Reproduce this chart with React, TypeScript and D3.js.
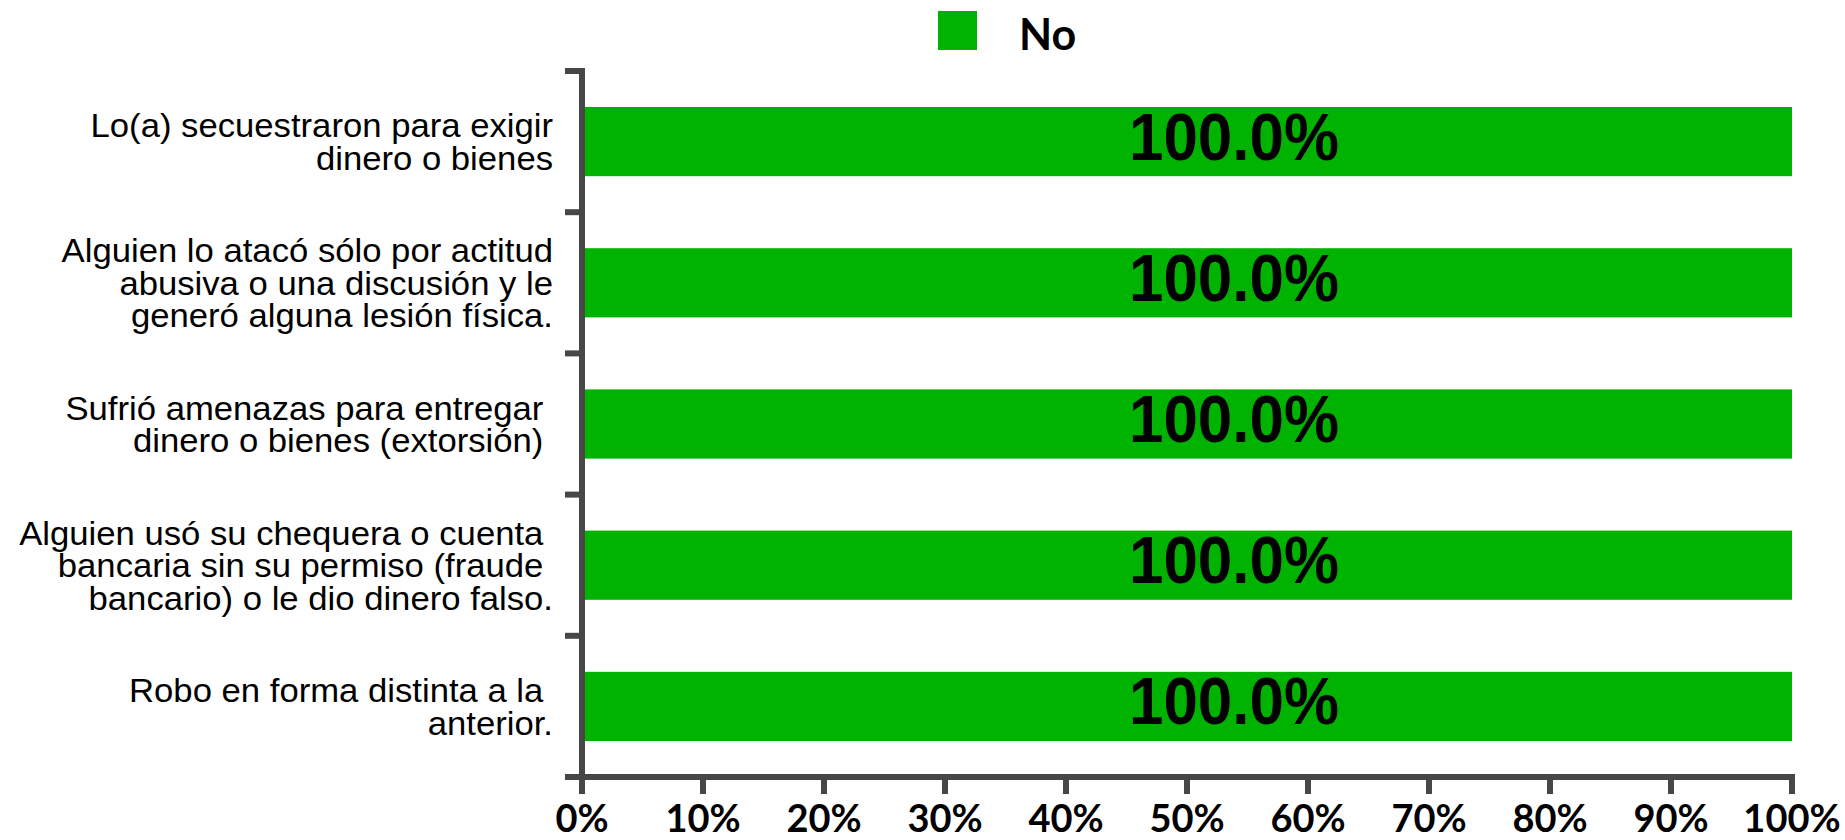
import React from "react";
import * as d3 from "d3";

const categoryLines: string[][] = [
  ["Lo(a) secuestraron para exigir", "dinero o bienes"],
  ["Alguien lo atacó sólo por actitud", "abusiva o una discusión y le", "generó alguna lesión física."],
  ["Sufrió amenazas para entregar ", "dinero o bienes (extorsión) "],
  ["Alguien usó su chequera o cuenta ", "bancaria sin su permiso (fraude ", "bancario) o le dio dinero falso."],
  ["Robo en forma distinta a la ", "anterior."],
];
const seriesName = "No";
const noValues = [100, 100, 100, 100, 100];
const xTickValues = [0, 10, 20, 30, 40, 50, 60, 70, 80, 90, 100];

const W = 1845;
const H = 840;
const GREEN = "#00b300";
const AXIS = "#474747";

export default function App() {
  const x = d3.scaleLinear().domain([0, 100]).range([582, 1792]);
  const idx = categoryLines.map((_, i) => String(i));
  const y = d3.scaleBand<string>().domain(idx).range([71, 777]).paddingInner(0.51).paddingOuter(0.255);
  const step = y.step();
  const top = 71;
  const bottom = 777;
  const tickLen = 17;
  const catFont = 34;
  const lineH = 32.5;
  const fmt = (v: number) => v.toFixed(1) + "%";

  return (
    <svg width={W} height={H} style={{ position: "absolute", left: 0, top: 0, background: "#fff" }}>
      {/* legend */}
      <rect x={938} y={11} width={39} height={39} fill={GREEN} />
      <text x={1019} y={50} fontFamily="Lato" fontWeight={700} fontSize={43} fill="#000">
        {seriesName}
      </text>

      {/* bars */}
      {noValues.map((v, i) => (
        <rect key={"b" + i} x={x(0) + 3} y={y(String(i))!} width={x(v) - x(0) - 3} height={y.bandwidth()} fill={GREEN} />
      ))}

      {/* value labels */}
      {noValues.map((v, i) => (
        <text
          key={"v" + i}
          x={x(v / 2) + 47}
          y={y(String(i))! + y.bandwidth() / 2 + 18}
          textAnchor="middle"
          fontFamily="Liberation Sans"
          fontWeight={700}
          fontSize={67}
          textLength={210}
          lengthAdjust="spacingAndGlyphs"
          fill="#000"
        >
          {fmt(v)}
        </text>
      ))}

      {/* y axis */}
      <line x1={x(0)} x2={x(0)} y1={top - 3} y2={bottom} stroke={AXIS} strokeWidth={6} />
      {d3.range(categoryLines.length + 1).map((k) => (
        <line key={"yt" + k} x1={x(0) - tickLen} x2={x(0)} y1={top + k * step} y2={top + k * step} stroke={AXIS} strokeWidth={6} />
      ))}

      {/* x axis */}
      <line x1={x(0) - tickLen} x2={x(100) + 3} y1={bottom} y2={bottom} stroke={AXIS} strokeWidth={6} />
      {xTickValues.map((t) => (
        <line key={"xt" + t} x1={x(t)} x2={x(t)} y1={bottom} y2={bottom + tickLen} stroke={AXIS} strokeWidth={6} />
      ))}
      {xTickValues.map((t) => (
        <text key={"xl" + t} x={x(t)} y={832} textAnchor="middle" fontFamily="Lato" fontWeight={700} fontSize={38} fill="#000">
          {t + "%"}
        </text>
      ))}

      {/* category labels */}
      {categoryLines.map((lines, i) => {
        const cy = y(String(i))! + y.bandwidth() / 2;
        const n = lines.length;
        return (
          <text
            key={"c" + i}
            transform="translate(553,0) scale(1.02,1)"
            textAnchor="end"
            fontFamily="Liberation Sans"
            fontSize={catFont}
            fill="#000"
            style={{ whiteSpace: "pre" }}
          >
            {lines.map((ln, j) => (
              <tspan key={j} x={0} y={cy + (j - (n - 1) / 2) * lineH + catFont * 0.35}>
                {ln}
              </tspan>
            ))}
          </text>
        );
      })}
    </svg>
  );
}
